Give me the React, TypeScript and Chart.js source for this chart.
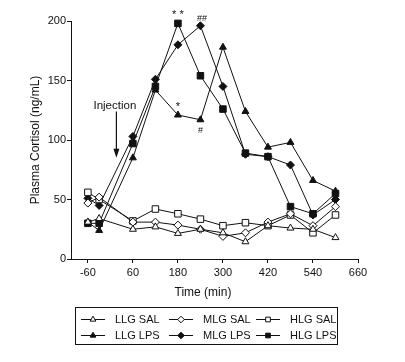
import React, { useEffect, useRef } from 'react';
import { Chart, registerables } from 'chart.js';

Chart.register(...registerables);

const FONT = '"Liberation Sans", Arial, Helvetica, sans-serif';

const TIMES = [-60, -30, 60, 120, 180, 240, 300, 360, 420, 480, 540, 600];
const LLG_SAL = [31, 34, 25, 27, 21.5, 25, 22, 14.5, 28, 26, 25, 18];
const MLG_SAL = [47, 52, 31, 31, 28.5, 25, 19, 22, 31, 38, 28, 44];
const HLG_SAL = [56, 50, 32, 42, 38, 33.5, 28, 30.5, 28, 37, 22, 37];
const LLG_LPS = [31, 24, 85, 142, 121, 117, 178, 124, 94, 98, 66, 57];
const MLG_LPS = [51, 45, 103, 151, 180, 196, 145, 88, 86, 79, 37, 50];
const HLG_LPS = [30, 30, 97, 145, 198, 154, 126, 89, 86, 44, 38, 55];

const X_TICKS = [-60, 60, 180, 300, 420, 540, 660];
const Y_TICKS = [0, 50, 100, 150, 200];

const INK = '#111';

type Series = { label: string; data: number[]; style: 'triangle' | 'rectRot' | 'rect'; filled: boolean };

const SERIES: Series[] = [
  { label: 'LLG SAL', data: LLG_SAL, style: 'triangle', filled: false },
  { label: 'MLG SAL', data: MLG_SAL, style: 'rectRot', filled: false },
  { label: 'HLG SAL', data: HLG_SAL, style: 'rect', filled: false },
  { label: 'LLG LPS', data: LLG_LPS, style: 'triangle', filled: true },
  { label: 'MLG LPS', data: MLG_LPS, style: 'rectRot', filled: true },
  { label: 'HLG LPS', data: HLG_LPS, style: 'rect', filled: true },
];

const RADIUS: Record<string, number> = { triangle: 4, rectRot: 4, rect: 4.6 };

function drawMarker(ctx: CanvasRenderingContext2D, style: string, x: number, y: number, r: number, filled: boolean) {
  ctx.beginPath();
  if (style === 'triangle') {
    const h = r * 1.5;
    const w = r * Math.sqrt(3) / 2;
    ctx.moveTo(x, y - r);
    ctx.lineTo(x + w, y - r + h);
    ctx.lineTo(x - w, y - r + h);
  } else if (style === 'rectRot') {
    ctx.moveTo(x, y - r);
    ctx.lineTo(x + r, y);
    ctx.lineTo(x, y + r);
    ctx.lineTo(x - r, y);
  } else {
    const s = r * Math.SQRT1_2;
    ctx.rect(x - s, y - s, 2 * s, 2 * s);
  }
  ctx.closePath();
  ctx.fillStyle = filled ? INK : '#fff';
  ctx.fill();
  ctx.lineWidth = 1;
  ctx.strokeStyle = INK;
  ctx.stroke();
}

const overlay = {
  id: 'overlay',
  afterDraw(chart: any) {
    const ctx: CanvasRenderingContext2D = chart.ctx;
    const xs = chart.scales.x;
    const ys = chart.scales.y;
    ctx.save();
    ctx.fillStyle = INK;
    ctx.strokeStyle = INK;

    // Y axis title
    ctx.save();
    ctx.font = `12px ${FONT}`;
    ctx.translate(36, (ys.top + ys.bottom) / 2);
    ctx.rotate(-Math.PI / 2);
    ctx.textAlign = 'center';
    ctx.textBaseline = 'middle';
    ctx.fillText('Plasma Cortisol (ng/mL)', 0, 0);
    ctx.restore();

    // X axis title
    ctx.font = `12px ${FONT}`;
    ctx.textAlign = 'center';
    ctx.textBaseline = 'middle';
    ctx.fillText('Time (min)', 203, 293);

    // Injection annotation
    ctx.font = `11.5px ${FONT}`;
    ctx.fillText('Injection', xs.getPixelForValue(12), ys.getPixelForValue(128.5));
    const ax = xs.getPixelForValue(16);
    const ay0 = ys.getPixelForValue(124);
    const ay1 = ys.getPixelForValue(85);
    ctx.lineWidth = 1.2;
    ctx.beginPath();
    ctx.moveTo(ax, ay0);
    ctx.lineTo(ax, ay1 - 6);
    ctx.stroke();
    ctx.beginPath();
    ctx.moveTo(ax - 3, ay1 - 9);
    ctx.lineTo(ax, ay1);
    ctx.lineTo(ax + 3, ay1 - 9);
    ctx.closePath();
    ctx.fill();

    // significance marks
    ctx.font = `11px ${FONT}`;
    ctx.fillText('* *', xs.getPixelForValue(180), ys.getPixelForValue(205));
    ctx.fillText('*', xs.getPixelForValue(180), ys.getPixelForValue(128));
    ctx.font = `9px ${FONT}`;
    ctx.fillText('##', xs.getPixelForValue(244), ys.getPixelForValue(202));
    ctx.fillText('#', xs.getPixelForValue(240), ys.getPixelForValue(108));

    // Legend box
    ctx.lineWidth = 1;
    ctx.strokeRect(75.5, 307.5, 262, 37);
    const colX = [81, 169, 256];
    const rowY = [319, 335];
    ctx.font = `11px ${FONT}`;
    ctx.textAlign = 'left';
    ctx.textBaseline = 'middle';
    SERIES.forEach((s, i) => {
      const cx = colX[i % 3];
      const cy = rowY[Math.floor(i / 3)];
      ctx.beginPath();
      ctx.moveTo(cx, cy + 0.5);
      ctx.lineTo(cx + 24, cy + 0.5);
      ctx.lineWidth = 1;
      ctx.strokeStyle = INK;
      ctx.stroke();
      drawMarker(ctx, s.style, cx + 12, cy + 0.5, 3.3, s.filled);
      ctx.fillStyle = INK;
      ctx.fillText(s.label, cx + 34, cy + 1);
    });
    ctx.restore();
  },
};

export default function App() {
  const ref = useRef<HTMLCanvasElement | null>(null);

  useEffect(() => {
    if (!ref.current) return;
    const datasets = SERIES.map((s) => ({
      label: s.label,
      data: TIMES.map((t, i) => ({ x: t, y: s.data[i] })),
      borderColor: INK,
      borderWidth: 1,
      backgroundColor: s.filled ? INK : '#fff',
      pointStyle: s.style,
      pointRadius: RADIUS[s.style],
      pointBorderWidth: 1,
      pointBorderColor: INK,
      pointBackgroundColor: s.filled ? INK : '#fff',
      fill: false,
      tension: 0,
      clip: false as any,
    }));

    const chart = new Chart(ref.current, {
      type: 'line',
      data: { datasets },
      options: {
        animation: false,
        responsive: false,
        devicePixelRatio: 1,
        layout: { padding: { left: 0, top: 21, right: 47, bottom: 62 } },
        plugins: { legend: { display: false }, tooltip: { enabled: false } },
        scales: {
          x: {
            type: 'linear',
            min: -105,
            max: 660,
            afterBuildTicks: (s: any) => {
              s.ticks = X_TICKS.map((v) => ({ value: v }));
            },
            afterFit: (s: any) => {
              s.height = 41;
              s.paddingLeft = 0;
              s.paddingRight = 0;
            },
            grid: { drawOnChartArea: false, drawTicks: true, tickLength: 4, color: INK, lineWidth: 1 },
            border: { display: true, color: INK, width: 1 },
            ticks: { color: INK, font: { family: FONT, size: 11 }, padding: 3, maxRotation: 0, autoSkip: false },
          },
          y: {
            type: 'linear',
            min: 0,
            max: 200,
            afterBuildTicks: (s: any) => {
              s.ticks = Y_TICKS.map((v) => ({ value: v }));
            },
            afterFit: (s: any) => {
              s.width = 71;
              s.paddingTop = 0;
              s.paddingBottom = 0;
            },
            grid: { drawOnChartArea: false, drawTicks: true, tickLength: 4, color: INK, lineWidth: 1 },
            border: { display: true, color: INK, width: 1 },
            ticks: { color: INK, font: { family: FONT, size: 11 }, padding: 1, autoSkip: false },
          },
        },
      },
      plugins: [overlay],
    });
    return () => chart.destroy();
  }, []);

  return (
    <div style={{ position: 'fixed', left: 0, top: 0, width: 405, height: 362, background: '#fff' }}>
      <canvas ref={ref} width={405} height={362} />
    </div>
  );
}
